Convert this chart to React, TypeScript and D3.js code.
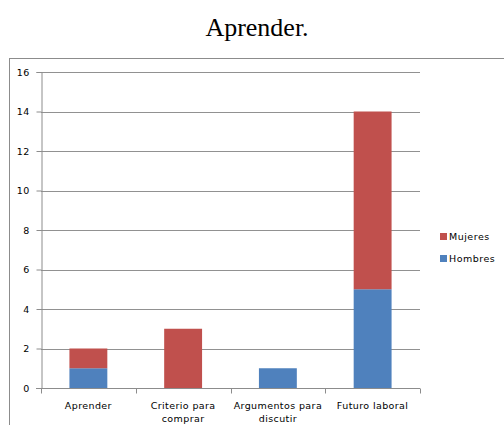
import React, { useEffect, useRef } from "react";
import * as d3 from "d3";

const categories = ["Aprender", "Criterio para comprar", "Argumentos para discutir", "Futuro laboral"];
const hombres = [1, 0, 1, 5];
const mujeres = [1, 3, 0, 9];
const yTicks = [0, 2, 4, 6, 8, 10, 12, 14, 16];
const seriesNames = ["Hombres", "Mujeres"];
const seriesColors = ["#4F81BD", "#C0504D"];

const labelLines: Record<string, string[]> = {
  "Criterio para comprar": ["Criterio para", "comprar"],
  "Argumentos para discutir": ["Argumentos para", "discutir"],
};

export default function App() {
  const ref = useRef<SVGSVGElement>(null);

  useEffect(() => {
    const svg = d3.select(ref.current);
    svg.selectAll("*").remove();
    const font = "'DejaVu Sans', sans-serif";

    // title
    svg.append("text")
      .attr("x", 257)
      .attr("y", 36)
      .attr("text-anchor", "middle")
      .attr("font-family", "'Liberation Serif', 'Times New Roman', serif")
      .attr("font-size", 26)
      .attr("fill", "#000")
      .text("Aprender.");

    // chart frame (runs off the page)
    svg.append("rect")
      .attr("x", 9.5)
      .attr("y", 58.5)
      .attr("width", 520)
      .attr("height", 400)
      .attr("fill", "none")
      .attr("stroke", "#8c8c8c");

    const left = 41, right = 420, top = 72, bottom = 388;

    const x = d3.scaleBand().domain(categories).range([left, right]).paddingInner(0.6).paddingOuter(0.3);
    const xb = d3.scaleBand().domain(categories).range([left, right]);
    const y = d3.scaleLinear().domain([0, 16]).range([bottom, top]);

    // gridlines
    svg.append("g")
      .selectAll("line")
      .data(yTicks.filter((t) => t > 0))
      .join("line")
      .attr("x1", left)
      .attr("x2", right)
      .attr("y1", (d) => Math.round(y(d)) + 0.5)
      .attr("y2", (d) => Math.round(y(d)) + 0.5)
      .attr("stroke", "#919191");

    // stacked bars
    const rows = categories.map((c, i) => ({ cat: c, Hombres: hombres[i], Mujeres: mujeres[i] }));
    const stack = d3.stack<any>().keys(seriesNames)(rows);
    svg.append("g")
      .selectAll("g")
      .data(stack)
      .join("g")
      .attr("fill", (_, i) => seriesColors[i])
      .selectAll("rect")
      .data((d) => d)
      .join("rect")
      .attr("x", (d) => x(d.data.cat)!)
      .attr("width", x.bandwidth())
      .attr("y", (d) => y(d[1]))
      .attr("height", (d) => y(d[0]) - y(d[1]));

    // y axis
    const yAxis = svg.append("g")
      .attr("transform", `translate(${left + 0.5},0)`)
      .call(d3.axisLeft(y).tickValues(yTicks).tickSize(5).tickPadding(7));
    yAxis.select(".domain").attr("stroke", "#8c8c8c");
    yAxis.selectAll(".tick line").attr("stroke", "#8c8c8c");
    yAxis.selectAll("text").attr("font-family", font).attr("font-size", 9.5).attr("letter-spacing", 0.3).attr("fill", "#000");

    // x axis
    const xAxis = svg.append("g")
      .attr("transform", `translate(0,${bottom + 0.5})`);
    xAxis.append("line")
      .attr("x1", left - 5)
      .attr("x2", right)
      .attr("stroke", "#8c8c8c");
    xAxis.selectAll("line.tk")
      .data([...categories.map((c) => xb(c)!), right])
      .join("line")
      .attr("class", "tk")
      .attr("x1", (d) => Math.round(d) + 0.5)
      .attr("x2", (d) => Math.round(d) + 0.5)
      .attr("y1", 0)
      .attr("y2", 5)
      .attr("stroke", "#8c8c8c");
    const lbl = xAxis.selectAll("text")
      .data(categories)
      .join("text")
      .attr("x", (d) => xb(d)! + xb.bandwidth() / 2)
      .attr("y", 20)
      .attr("text-anchor", "middle")
      .attr("font-family", font)
      .attr("font-size", 9.5)
      .attr("letter-spacing", 0.4)
      .attr("fill", "#000");
    lbl.selectAll("tspan")
      .data((d) => labelLines[d] || [d])
      .join("tspan")
      .attr("x", function () {
        return (this.parentNode as SVGTextElement).getAttribute("x");
      })
      .attr("dy", (_, i) => (i === 0 ? 0 : 13))
      .text((d) => d);

    // legend
    const legendItems = [
      { name: "Mujeres", color: seriesColors[1] },
      { name: "Hombres", color: seriesColors[0] },
    ];
    const lg = svg.append("g").attr("transform", "translate(440,233)");
    const item = lg.selectAll("g")
      .data(legendItems)
      .join("g")
      .attr("transform", (_, i) => `translate(0,${i * 22})`);
    item.append("rect").attr("width", 7).attr("height", 7).attr("fill", (d) => d.color);
    item.append("text")
      .attr("x", 9)
      .attr("y", 7)
      .attr("font-family", font)
      .attr("font-size", 9.5)
      .attr("letter-spacing", 0.5)
      .attr("fill", "#000")
      .text((d) => d.name);
  }, []);

  return <svg ref={ref} width={504} height={425} style={{ position: "absolute", left: 0, top: 0 }} />;
}
